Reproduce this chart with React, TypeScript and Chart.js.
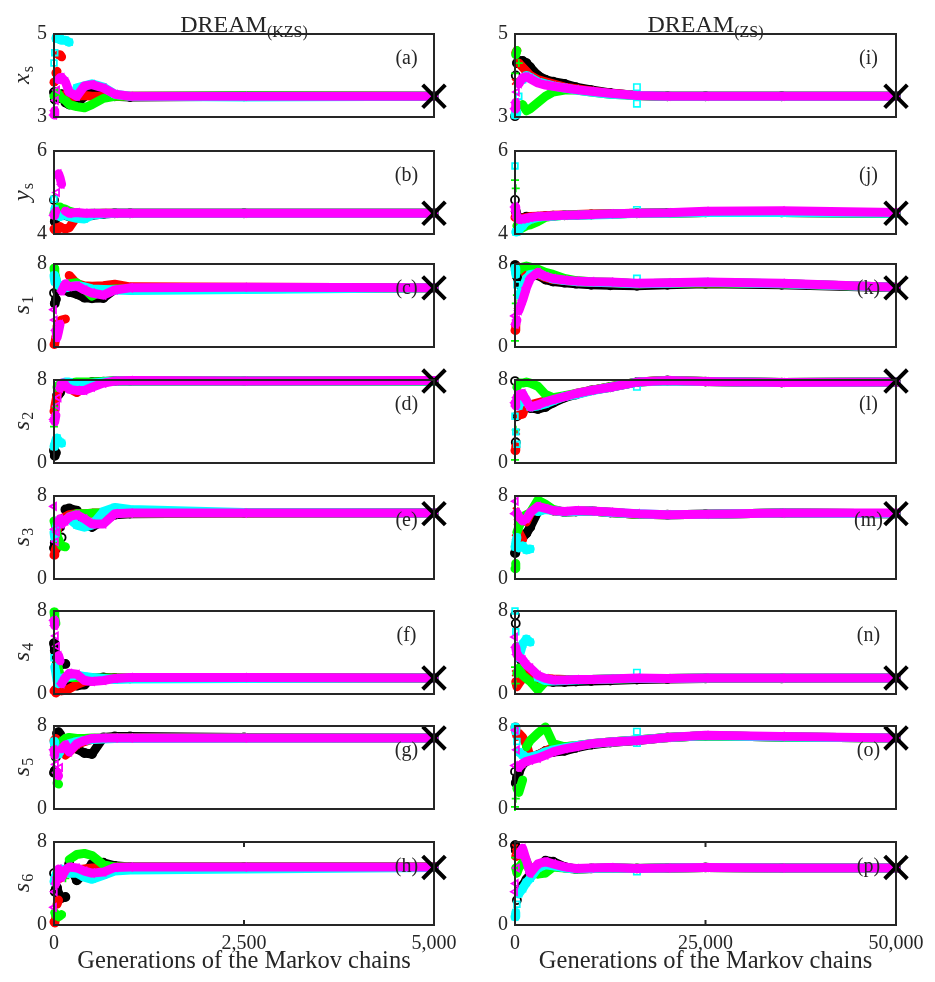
import React, { useEffect, useRef } from 'react';
import { Chart, registerables } from 'chart.js';

Chart.register(...registerables);

// Generations at which the chains are sampled
const GEN_KZS = [0, 10, 25, 40, 60, 80, 100, 150, 200, 300, 400, 500, 650, 800, 1000, 2500, 5000];
const GEN_ZS = [0, 100, 250, 500, 1000, 1500, 2000, 3000, 4000, 5000, 6500, 8000, 10000, 12500, 16000, 20000, 25000, 35000, 50000];
const GEN_TICKS_KZS = [0, 2500, 5000];
const GEN_TICKS_ZS = [0, 25000, 50000];

const PARAM_SYMBOL = ['x', 'y', 's', 's', 's', 's', 's', 's'];
const PARAM_INDEX = ['s', 's', '1', '2', '3', '4', '5', '6'];
const Y_MIN = [3, 4, 0, 0, 0, 0, 0, 0];
const Y_MAX = [5, 6, 8, 8, 8, 8, 8, 8];
const TRUE_VALUE = [3.5, 4.5, 5.7, 7.9, 6.3, 1.55, 6.85, 5.55];
const LETTERS_KZS = ['a', 'b', 'c', 'd', 'e', 'f', 'g', 'h'];
const LETTERS_ZS = ['i', 'j', 'k', 'l', 'm', 'n', 'o', 'p'];

// Chain rows: black, red, green, cyan, magenta
const KZS_XS = [
  [3.6, 3.42, 3.55, 3.45, 3.45, 3.5, 3.55, 3.35, 3.3, 3.32, 3.5, 3.62, 3.55, 3.5, 3.48, 3.5, 3.5],
  [3.84, 3.84, 4.06, 4.1, 4.5, 4.5, 4.45, 3.55, 3.45, 3.5, 3.52, 3.5, 3.5, 3.5, 3.5, 3.5, 3.5],
  [3.5, 3.5, 3.55, 3.6, 3.55, 3.5, 3.45, 3.4, 3.3, 3.25, 3.22, 3.3, 3.45, 3.5, 3.5, 3.52, 3.5],
  [4.3, 4.55, 4.9, 4.9, 4.88, 4.9, 4.85, 4.85, 4.8, 3.7, 3.75, 3.8, 3.72, 3.55, 3.5, 3.48, 3.5],
  [3.05, 3.15, 3.4, 3.65, 3.9, 3.95, 3.95, 3.85, 3.6, 3.5, 3.75, 3.78, 3.7, 3.55, 3.5, 3.5, 3.5],
];
const KZS_YS = [
  [4.82, 4.3, 4.45, 4.5, 4.5, 4.48, 4.5, 4.45, 4.42, 4.4, 4.42, 4.45, 4.48, 4.5, 4.5, 4.5, 4.5],
  [4.12, 4.1, 4.15, 4.15, 4.12, 4.18, 4.15, 4.12, 4.15, 4.42, 4.45, 4.48, 4.5, 4.5, 4.5, 4.5, 4.5],
  [4.5, 4.5, 4.55, 4.6, 4.65, 4.65, 4.62, 4.6, 4.55, 4.5, 4.48, 4.5, 4.5, 4.5, 4.5, 4.5, 4.5],
  [4.84, 4.6, 4.45, 4.45, 4.45, 4.42, 4.45, 4.45, 4.42, 4.38, 4.36, 4.45, 4.48, 4.5, 4.5, 4.5, 4.5],
  [4.45, 4.48, 4.55, 5.0, 5.45, 5.35, 5.2, 4.55, 4.5, 4.52, 4.5, 4.5, 4.5, 4.5, 4.5, 4.5, 4.5],
];
const KZS_S1 = [
  [5.2, 4.2, 4.6, 5.4, 5.7, 5.6, 5.6, 5.5, 5.3, 5.1, 4.75, 4.7, 4.72, 5.55, 5.6, 5.62, 5.7],
  [0.25, 0.3, 1.0, 2.0, 2.3, 2.5, 2.6, 2.7, 6.9, 6.1, 5.9, 5.85, 5.9, 6.05, 5.8, 5.75, 5.7],
  [7.6, 7.1, 6.6, 6.1, 5.9, 5.85, 5.9, 6.0, 6.1, 6.2, 5.6, 4.9, 5.5, 5.6, 5.6, 5.65, 5.7],
  [6.9, 6.3, 6.5, 6.2, 6.0, 5.9, 5.8, 5.7, 5.8, 5.9, 5.8, 5.6, 5.55, 5.5, 5.45, 5.55, 5.7],
  [3.6, 2.6, 1.6, 0.9, 1.5, 2.2, 5.4, 6.1, 5.8, 5.9, 5.5, 5.2, 5.0, 5.5, 5.7, 5.75, 5.7],
];
const KZS_S2 = [
  [1.2, 0.7, 1.0, 6.5, 6.6, 6.8, 7.2, 7.3, 7.5, 7.6, 7.7, 7.8, 7.85, 7.9, 7.9, 7.9, 7.9],
  [5.0, 5.4, 6.0, 6.5, 7.0, 7.2, 7.3, 7.4, 7.2, 6.8, 7.3, 7.6, 7.8, 7.9, 7.9, 7.9, 7.9],
  [3.5, 4.3, 5.4, 7.3, 7.5, 7.5, 7.6, 7.7, 7.7, 7.8, 7.8, 7.8, 7.85, 7.9, 7.9, 7.9, 7.9],
  [1.6, 1.8, 2.2, 2.4, 2.1, 2.0, 1.9, 7.8, 7.8, 7.5, 7.6, 7.7, 7.8, 7.9, 7.9, 7.9, 7.9],
  [4.2, 4.0, 4.6, 5.5, 6.3, 7.2, 7.7, 7.5, 7.1, 7.0, 7.0, 7.3, 7.7, 7.9, 7.95, 7.9, 7.95],
];
const KZS_S3 = [
  [3.0, 3.5, 2.9, 4.8, 5.5, 5.0, 4.0, 6.7, 6.8, 6.6, 5.3, 5.0, 5.6, 6.2, 6.3, 6.35, 6.35],
  [2.3, 2.6, 3.0, 4.6, 5.2, 5.5, 5.8, 6.0, 6.2, 6.3, 6.3, 6.35, 6.35, 6.35, 6.35, 6.35, 6.35],
  [5.6, 5.4, 4.8, 4.2, 3.8, 3.5, 3.2, 3.1, 6.0, 6.3, 6.3, 6.35, 6.35, 6.35, 6.35, 6.35, 6.35],
  [4.5, 4.0, 4.8, 5.3, 5.6, 5.5, 5.6, 5.7, 5.8, 5.2, 5.0, 5.2, 6.5, 6.9, 6.7, 6.4, 6.35],
  [7.0, 4.8, 3.6, 4.5, 5.5, 5.8, 5.3, 5.6, 6.0, 6.2, 5.8, 5.3, 5.3, 6.3, 6.35, 6.35, 6.35],
];
const KZS_S4 = [
  [4.9, 4.2, 3.6, 3.0, 2.6, 2.8, 2.9, 2.9, 1.1, 0.8, 0.9, 1.5, 1.6, 1.55, 1.5, 1.55, 1.55],
  [0.3, 0.4, 0.1, 0.2, 0.5, 0.4, 0.3, 0.35, 0.5, 0.9, 1.2, 1.4, 1.5, 1.55, 1.55, 1.55, 1.55],
  [7.9, 7.4, 6.8, 3.0, 2.4, 1.8, 1.5, 1.5, 1.6, 1.6, 1.6, 1.55, 1.55, 1.55, 1.55, 1.55, 1.55],
  [3.5, 2.6, 2.0, 1.3, 1.0, 1.5, 1.5, 1.6, 1.7, 1.8, 1.7, 1.6, 1.5, 1.4, 1.45, 1.5, 1.55],
  [7.1, 6.6, 5.6, 4.6, 3.7, 3.2, 1.0, 1.6, 2.0, 1.9, 1.3, 1.2, 1.3, 1.5, 1.6, 1.6, 1.55],
];
const KZS_S5 = [
  [3.5, 3.7, 5.0, 7.3, 7.4, 7.2, 6.8, 6.4, 6.0, 5.8, 5.4, 5.3, 6.9, 7.0, 7.0, 6.9, 6.85],
  [6.6, 6.7, 6.8, 6.5, 6.0, 5.8, 5.6, 5.2, 5.5, 6.2, 6.5, 6.7, 6.8, 6.85, 6.85, 6.85, 6.85],
  [6.0, 5.0, 3.5, 2.5, 2.4, 6.2, 6.5, 6.8, 6.9, 6.8, 6.8, 6.85, 6.85, 6.85, 6.85, 6.85, 6.85],
  [6.5, 6.2, 5.8, 5.5, 5.3, 5.6, 5.8, 6.0, 6.3, 6.5, 6.6, 6.7, 6.75, 6.8, 6.8, 6.82, 6.85],
  [5.7, 5.2, 4.3, 3.5, 3.2, 4.0, 5.8, 6.2, 5.5, 6.3, 6.6, 6.8, 6.85, 6.85, 6.85, 6.85, 6.85],
];
const KZS_S6 = [
  [5.0, 3.2, 3.5, 3.6, 3.0, 2.6, 2.6, 2.7, 5.9, 4.3, 5.0, 5.9, 6.0, 5.7, 5.6, 5.6, 5.6],
  [0.3, 0.2, 0.8, 2.0, 2.4, 4.5, 4.8, 5.0, 5.2, 5.3, 5.4, 5.5, 5.5, 5.6, 5.6, 5.6, 5.6],
  [4.0, 1.2, 0.9, 1.0, 0.8, 0.9, 1.0, 4.5, 6.3, 6.8, 6.9, 6.7, 5.8, 5.6, 5.6, 5.6, 5.6],
  [4.2, 4.5, 4.8, 5.0, 5.2, 5.3, 5.4, 5.2, 5.0, 5.0, 4.6, 4.4, 4.8, 5.2, 5.3, 5.4, 5.55],
  [1.7, 3.2, 4.0, 4.6, 5.4, 5.0, 4.6, 5.3, 5.6, 5.5, 5.2, 5.0, 5.1, 5.55, 5.6, 5.6, 5.6],
];

const ZS_XS = [
  [3.02, 4.0, 4.3, 4.35, 4.35, 4.3, 4.2, 4.0, 3.9, 3.85, 3.8, 3.72, 3.65, 3.58, 3.52, 3.5, 3.5, 3.5, 3.5],
  [3.85, 4.55, 4.6, 4.3, 4.2, 4.1, 4.0, 3.9, 3.85, 3.8, 3.72, 3.68, 3.63, 3.57, 3.52, 3.5, 3.5, 3.5, 3.5],
  [4.05, 4.5, 4.6, 4.3, 3.3, 3.15, 3.2, 3.35, 3.5, 3.6, 3.65, 3.65, 3.6, 3.55, 3.52, 3.5, 3.5, 3.5, 3.5],
  [3.05, 3.1, 3.1, 3.5, 3.9, 4.0, 3.95, 3.85, 3.8, 3.75, 3.7, 3.65, 3.6, 3.55, 3.52, 3.5, 3.5, 3.5, 3.5],
  [3.2, 3.35, 3.6, 3.8, 3.95, 3.97, 3.92, 3.82, 3.77, 3.74, 3.7, 3.66, 3.62, 3.57, 3.52, 3.5, 3.5, 3.5, 3.5],
];
const ZS_YS = [
  [4.82, 4.55, 4.45, 4.35, 4.38, 4.42, 4.4, 4.42, 4.43, 4.44, 4.45, 4.46, 4.47, 4.48, 4.5, 4.51, 4.52, 4.52, 4.5],
  [4.4, 4.45, 4.4, 4.38, 4.38, 4.4, 4.42, 4.43, 4.44, 4.45, 4.46, 4.47, 4.48, 4.49, 4.5, 4.5, 4.52, 4.52, 4.5],
  [5.3, 5.1, 4.2, 4.1, 4.15, 4.2, 4.22, 4.3, 4.4, 4.43, 4.45, 4.46, 4.47, 4.48, 4.5, 4.5, 4.52, 4.52, 4.5],
  [5.64, 4.05, 4.05, 4.1, 4.2, 4.3, 4.35, 4.4, 4.42, 4.43, 4.45, 4.45, 4.46, 4.47, 4.5, 4.5, 4.52, 4.52, 4.5],
  [4.65, 4.55, 4.4, 4.35, 4.36, 4.38, 4.4, 4.42, 4.43, 4.44, 4.45, 4.46, 4.47, 4.49, 4.5, 4.51, 4.55, 4.56, 4.52],
];
const ZS_S1 = [
  [7.9, 7.4, 6.8, 6.2, 5.5, 6.4, 6.9, 6.9, 6.5, 6.3, 6.2, 6.1, 6.0, 5.95, 5.9, 6.0, 6.1, 6.0, 5.7],
  [1.6, 2.2, 3.5, 7.7, 7.5, 7.0, 6.9, 7.0, 6.7, 6.5, 6.4, 6.3, 6.25, 6.2, 6.1, 6.15, 6.2, 6.1, 5.75],
  [0.6, 4.2, 5.0, 7.4, 7.7, 7.8, 7.7, 7.5, 7.2, 7.0, 6.6, 6.4, 6.3, 6.25, 6.1, 6.15, 6.2, 6.1, 5.75],
  [7.6, 7.0, 6.0, 5.0, 5.6, 6.6, 7.0, 7.1, 6.8, 6.55, 6.4, 6.3, 6.25, 6.2, 6.1, 6.15, 6.25, 6.1, 5.75],
  [3.0, 2.2, 2.6, 3.5, 4.5, 5.7, 6.6, 7.2, 6.8, 6.6, 6.45, 6.35, 6.3, 6.27, 6.15, 6.2, 6.27, 6.15, 5.75],
];
const ZS_S2 = [
  [7.9, 2.0, 4.5, 5.8, 6.2, 5.9, 5.3, 5.2, 5.4, 5.8, 6.3, 6.6, 7.0, 7.3, 7.8, 7.95, 7.85, 7.75, 7.8],
  [1.2, 1.6, 3.0, 4.6, 4.7, 5.8, 5.6, 5.8, 6.0, 6.1, 6.4, 6.7, 7.0, 7.35, 7.8, 7.95, 7.85, 7.75, 7.8],
  [0.3, 3.2, 7.3, 7.7, 7.7, 7.8, 7.7, 7.4, 6.6, 6.3, 6.5, 6.7, 7.0, 7.35, 7.8, 7.95, 7.85, 7.75, 7.8],
  [4.5, 3.0, 1.8, 5.5, 6.6, 6.0, 5.4, 5.5, 5.7, 6.0, 6.4, 6.6, 6.95, 7.3, 7.8, 7.9, 7.85, 7.75, 7.8],
  [5.8, 5.5, 6.3, 6.6, 6.7, 6.0, 5.4, 5.6, 5.9, 6.1, 6.4, 6.7, 7.0, 7.3, 7.8, 7.95, 7.85, 7.75, 7.8],
];
const ZS_S3 = [
  [2.5, 2.8, 3.2, 3.6, 4.0, 4.4, 5.0, 6.5, 6.8, 6.6, 6.45, 6.5, 6.55, 6.4, 6.25, 6.2, 6.25, 6.35, 6.3],
  [4.0, 6.6, 5.5, 4.5, 3.8, 5.5, 6.3, 7.0, 6.8, 6.6, 6.45, 6.5, 6.55, 6.4, 6.25, 6.2, 6.25, 6.35, 6.3],
  [1.0, 1.5, 4.5, 5.0, 6.0, 6.2, 6.4, 7.6, 7.2, 6.7, 6.45, 6.5, 6.55, 6.4, 6.25, 6.2, 6.25, 6.35, 6.3],
  [3.1, 3.5, 4.0, 3.0, 3.2, 2.8, 2.9, 6.5, 6.7, 6.6, 6.45, 6.5, 6.55, 6.4, 6.3, 6.2, 6.25, 6.35, 6.3],
  [6.3, 7.5, 6.4, 6.0, 5.6, 5.8, 6.4, 7.0, 6.8, 6.6, 6.5, 6.6, 6.55, 6.45, 6.3, 6.2, 6.25, 6.35, 6.35],
];
const ZS_S4 = [
  [7.6, 6.8, 4.5, 3.5, 3.0, 2.4, 1.9, 1.4, 1.2, 1.15, 1.15, 1.2, 1.25, 1.3, 1.4, 1.45, 1.5, 1.5, 1.55],
  [2.0, 1.2, 0.7, 1.0, 1.5, 2.0, 1.8, 1.5, 1.5, 1.45, 1.4, 1.4, 1.4, 1.45, 1.5, 1.5, 1.55, 1.55, 1.55],
  [2.6, 1.0, 2.0, 2.5, 1.8, 1.5, 1.2, 0.4, 1.2, 1.3, 1.35, 1.4, 1.4, 1.45, 1.5, 1.5, 1.55, 1.55, 1.55],
  [8.0, 6.0, 4.5, 3.5, 4.8, 5.3, 5.0, 1.6, 1.3, 1.25, 1.3, 1.35, 1.4, 1.45, 1.5, 1.5, 1.55, 1.55, 1.55],
  [5.5, 4.5, 3.8, 3.6, 3.3, 2.8, 2.5, 1.8, 1.5, 1.35, 1.35, 1.4, 1.4, 1.45, 1.55, 1.5, 1.55, 1.55, 1.55],
];
const ZS_S5 = [
  [3.6, 2.5, 3.0, 3.5, 4.3, 4.6, 4.8, 5.2, 5.6, 5.5, 5.6, 5.9, 6.2, 6.4, 6.6, 6.9, 7.05, 6.95, 6.85],
  [7.9, 7.5, 7.0, 7.3, 6.9, 6.2, 5.0, 5.2, 5.6, 5.9, 6.0, 6.1, 6.3, 6.45, 6.65, 6.9, 7.05, 6.95, 6.85],
  [0.2, 1.0, 2.0, 1.6, 2.8, 6.0, 6.6, 7.3, 7.9, 6.3, 6.0, 6.1, 6.3, 6.45, 6.65, 6.9, 7.05, 6.95, 6.85],
  [7.9, 7.5, 6.5, 5.5, 5.2, 5.0, 5.0, 5.2, 5.5, 5.7, 5.9, 6.1, 6.3, 6.45, 6.65, 6.9, 7.05, 6.95, 6.85],
  [4.2, 7.6, 5.7, 4.0, 4.4, 4.6, 4.7, 4.9, 5.2, 5.5, 5.8, 6.0, 6.3, 6.45, 6.6, 6.9, 7.1, 7.0, 6.85],
];
const ZS_S6 = [
  [7.7, 7.2, 2.4, 3.4, 3.8, 4.4, 4.9, 5.6, 6.2, 6.1, 5.6, 5.4, 5.45, 5.5, 5.45, 5.5, 5.55, 5.5, 5.5],
  [7.5, 6.6, 7.0, 6.8, 6.5, 6.0, 5.5, 5.5, 5.8, 5.7, 5.5, 5.4, 5.45, 5.5, 5.45, 5.5, 5.55, 5.5, 5.5],
  [6.5, 5.5, 5.0, 5.5, 6.0, 6.2, 5.0, 4.9, 5.0, 5.6, 5.5, 5.4, 5.45, 5.5, 5.45, 5.5, 5.55, 5.5, 5.5],
  [0.8, 1.2, 2.0, 3.0, 3.5, 4.1, 4.5, 5.5, 5.8, 5.7, 5.5, 5.4, 5.45, 5.5, 5.45, 5.5, 5.55, 5.5, 5.5],
  [3.2, 4.0, 5.5, 6.8, 7.4, 6.2, 5.0, 5.9, 6.1, 5.9, 5.6, 5.45, 5.5, 5.55, 5.45, 5.5, 5.55, 5.5, 5.5],
];

// Isolated cyan-chain samples near generation 16,000 (DREAM(ZS) run)
const ZS_CYAN_JUMP_GEN = 16000;
const ZS_CYAN_JUMP = [[3.72, 3.32], [4.58], [6.6], [7.35], [], [2.05], [7.45, 6.35], [5.15]];

const KZS_PANELS = [KZS_XS, KZS_YS, KZS_S1, KZS_S2, KZS_S3, KZS_S4, KZS_S5, KZS_S6];
const ZS_PANELS = [ZS_XS, ZS_YS, ZS_S1, ZS_S2, ZS_S3, ZS_S4, ZS_S5, ZS_S6];

// ---- styling ----
const CHAIN_STYLE = [
  { color: '#000000', point: 'circle', rotation: 0 },
  { color: '#ff0000', point: 'crossRot', rotation: 0 },
  { color: '#00ff00', point: 'cross', rotation: 0 },
  { color: '#00ffff', point: 'rect', rotation: 0 },
  { color: '#ff00ff', point: 'triangle', rotation: -90 },
];
const CHAIN_ORDER = [6, 5, 4, 3, 1];
const BAND_WIDTH = 9;
const INK = '#262626';
const SERIF = '"Liberation Serif", "Times New Roman", serif';

const ROW_TOP = [34, 151, 264, 380, 496, 611, 726, 842];
const PLOT_H = 83;
const COL_LAYOUT = [
  { left: 0, width: 467, axisW: 54, padR: 33, title: 'DREAM', sub: '(KZS)' },
  { left: 467, width: 468, axisW: 48, padR: 39, title: 'DREAM', sub: '(ZS)' },
];
const PAD_Y = 24;
const X_AXIS_H = 57;

// Steep jumps between neighbouring samples are left as separate markers
const hideJump = (ctx: any) => {
  const dx = Math.abs(ctx.p1.x - ctx.p0.x);
  const dy = Math.abs(ctx.p1.y - ctx.p0.y);
  return dy > 8 && dy > 4 * dx ? 'rgba(0,0,0,0)' : undefined;
};

function panelGeometry(col: number, row: number) {
  const c = COL_LAYOUT[col];
  const isTop = row === 0;
  const isBottom = row === 7;
  const padTop = isTop ? ROW_TOP[0] : PAD_Y;
  const top = isTop ? 0 : ROW_TOP[row] - PAD_Y;
  const height = padTop + PLOT_H + (isBottom ? X_AXIS_H : PAD_Y);
  return { left: c.left, top, width: c.width, height, padTop, isTop, isBottom };
}

function buildConfig(col: number, row: number) {
  const c = COL_LAYOUT[col];
  const g = panelGeometry(col, row);
  const gens = col === 0 ? GEN_KZS : GEN_ZS;
  const ticks = col === 0 ? GEN_TICKS_KZS : GEN_TICKS_ZS;
  const chains = (col === 0 ? KZS_PANELS : ZS_PANELS)[row];
  const letter = (col === 0 ? LETTERS_KZS : LETTERS_ZS)[row];
  const yMin = Y_MIN[row];
  const yMax = Y_MAX[row];
  const gMax = gens[gens.length - 1];

  const datasets: any[] = chains.map((vals, i) => {
    const st = CHAIN_STYLE[i];
    return {
      type: 'line',
      data: vals.map((v, j) => ({ x: gens[j], y: v })),
      borderColor: st.color,
      borderWidth: BAND_WIDTH,
      borderCapStyle: 'round',
      borderJoinStyle: 'round',
      tension: 0,
      pointStyle: st.point,
      pointRotation: st.rotation,
      pointRadius: 4,
      pointBorderWidth: 1.8,
      pointBorderColor: st.color,
      pointBackgroundColor: 'rgba(0,0,0,0)',
      clip: 6,
      order: CHAIN_ORDER[i],
      segment: { borderColor: hideJump },
    };
  });

  if (col === 1) {
    datasets.push({
      type: 'line',
      showLine: false,
      data: ZS_CYAN_JUMP[row].map((v) => ({ x: ZS_CYAN_JUMP_GEN, y: v })),
      pointStyle: 'rect',
      pointRadius: 4.5,
      pointBorderWidth: 1.6,
      pointBorderColor: CHAIN_STYLE[3].color,
      pointBackgroundColor: 'rgba(0,0,0,0)',
      order: 2,
      clip: 6,
    });
  }

  // true parameter value
  datasets.push({
    type: 'line',
    showLine: false,
    data: [{ x: gMax, y: TRUE_VALUE[row] }],
    pointStyle: 'crossRot',
    pointRadius: 16,
    pointBorderWidth: 4,
    pointBorderColor: '#000000',
    pointBackgroundColor: 'rgba(0,0,0,0)',
    order: 0,
    clip: false,
  });

  const decor = {
    id: 'decor',
    afterDatasetsDraw(chart: any) {
      const { ctx, chartArea: a } = chart;
      ctx.save();
      ctx.strokeStyle = INK;
      ctx.lineWidth = 2;
      ctx.strokeRect(a.left, a.top, a.right - a.left, a.bottom - a.top);
      if (g.isBottom) {
        const xm = chart.scales.x.getPixelForValue(ticks[1]);
        ctx.beginPath();
        ctx.moveTo(xm, a.top);
        ctx.lineTo(xm, a.top + 5);
        ctx.moveTo(xm, a.bottom);
        ctx.lineTo(xm, a.bottom - 5);
        ctx.stroke();
      }
      ctx.fillStyle = INK;
      ctx.font = `20px ${SERIF}`;
      ctx.textAlign = 'center';
      ctx.textBaseline = 'middle';
      ctx.fillText(`(${letter})`, a.right - 27.5, a.top + 25);
      ctx.restore();
    },
    afterDraw(chart: any) {
      const { ctx, chartArea: a } = chart;
      ctx.save();
      ctx.fillStyle = INK;
      ctx.textBaseline = 'alphabetic';
      ctx.textAlign = 'left';
      const cx = (a.left + a.right) / 2;
      if (col === 0) {
        ctx.save();
        ctx.translate(29, (a.top + a.bottom) / 2);
        ctx.rotate(-Math.PI / 2);
        ctx.font = `italic 24px ${SERIF}`;
        const w1 = ctx.measureText(PARAM_SYMBOL[row]).width;
        ctx.font = `16px ${SERIF}`;
        const w2 = ctx.measureText(PARAM_INDEX[row]).width;
        const x0 = -(w1 + w2) / 2;
        ctx.font = `italic 24px ${SERIF}`;
        ctx.fillText(PARAM_SYMBOL[row], x0, 0);
        ctx.font = `16px ${SERIF}`;
        ctx.fillText(PARAM_INDEX[row], x0 + w1 + 1, 4);
        ctx.restore();
      }
      if (g.isTop) {
        ctx.font = `24px ${SERIF}`;
        const w1 = ctx.measureText(c.title).width;
        ctx.font = `16px ${SERIF}`;
        const w2 = ctx.measureText(c.sub).width;
        const x0 = cx - (w1 + w2) / 2;
        ctx.font = `24px ${SERIF}`;
        ctx.fillText(c.title, x0, 32);
        ctx.font = `16px ${SERIF}`;
        ctx.fillText(c.sub, x0 + w1, 37);
      }
      if (g.isBottom) {
        ctx.font = `24.5px ${SERIF}`;
        ctx.textAlign = 'center';
        ctx.fillText('Generations of the Markov chains', cx, a.bottom + 43);
      }
      ctx.restore();
    },
  };

  return {
    type: 'line',
    data: { datasets },
    options: {
      responsive: false,
      animation: false,
      events: [],
      layout: { padding: { left: 0, right: c.padR, top: g.padTop, bottom: g.isBottom ? 0 : PAD_Y } },
      plugins: { legend: { display: false }, tooltip: { enabled: false } },
      scales: {
        x: {
          type: 'linear',
          min: 0,
          max: gMax,
          display: g.isBottom,
          grid: { display: false, drawTicks: false },
          border: { display: false },
          afterBuildTicks: (s: any) => {
            s.ticks = ticks.map((v) => ({ value: v }));
          },
          afterFit: (s: any) => {
            if (g.isBottom) s.height = X_AXIS_H;
          },
          ticks: {
            autoSkip: false,
            maxRotation: 0,
            padding: 7,
            color: INK,
            font: { family: SERIF, size: 20 },
            callback: (v: any) => Number(v).toLocaleString('en-US'),
          },
        },
        y: {
          type: 'linear',
          min: yMin,
          max: yMax,
          grid: { display: false, drawTicks: false },
          border: { display: false },
          afterBuildTicks: (s: any) => {
            s.ticks = [{ value: yMin }, { value: yMax }];
          },
          afterFit: (s: any) => {
            s.width = c.axisW;
          },
          ticks: {
            padding: 7,
            color: INK,
            font: { family: SERIF, size: 20 },
            callback: (v: any) => String(v),
          },
        },
      },
    },
    plugins: [decor],
  };
}

function Panel({ col, row }: { col: number; row: number }) {
  const ref = useRef<HTMLCanvasElement | null>(null);
  const g = panelGeometry(col, row);
  useEffect(() => {
    if (!ref.current) return;
    const chart = new Chart(ref.current, buildConfig(col, row) as any);
    return () => chart.destroy();
  }, [col, row]);
  return (
    <canvas
      ref={ref}
      width={g.width}
      height={g.height}
      style={{ position: 'absolute', left: g.left, top: g.top, width: g.width, height: g.height }}
    />
  );
}

export default function App() {
  const rows = [0, 1, 2, 3, 4, 5, 6, 7];
  return (
    <div style={{ position: 'absolute', left: 0, top: 0, width: 935, height: 982, background: '#ffffff' }}>
      {rows.map((r) => (
        <Panel key={`k${r}`} col={0} row={r} />
      ))}
      {rows.map((r) => (
        <Panel key={`z${r}`} col={1} row={r} />
      ))}
    </div>
  );
}
